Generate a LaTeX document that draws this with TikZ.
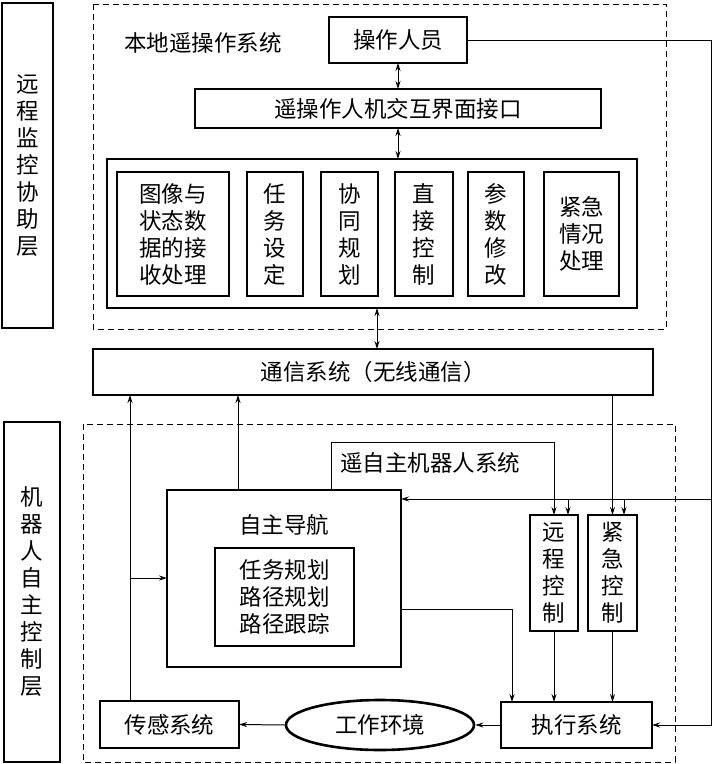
\documentclass[tikz,border=0pt]{standalone}
\usepackage{fontspec}
\newfontfamily\cjk{Noto Sans CJK SC}
\usetikzlibrary{arrows.meta,shapes.geometric,calc}
\begin{document}
\begin{tikzpicture}[x=1pt,y=-1pt,
  box/.style={draw,line width=2.6pt,inner sep=0pt,outer sep=0pt,align=center,
    font=\cjk\fontsize{22.5}{27}\selectfont},
  lbl/.style={inner sep=0pt,font=\cjk\fontsize{22.5}{27}\selectfont},
  dbox/.style={draw,line width=0.9pt,dash pattern=on 6pt off 4pt},
  conn/.style={line width=1pt,-{Stealth[length=8pt,width=5pt]}},
  dconn/.style={line width=1pt,{Stealth[length=8pt,width=5pt]}-{Stealth[length=8pt,width=5pt]}},
  plain/.style={line width=1pt}]
\useasboundingbox (0,0) rectangle (716,764);
\fill[white] (0,0) rectangle (716,764);

% dashed groups
\draw[dbox] (93,4) rectangle (666,329);
\draw[dbox] (83,424) rectangle (675,762);

% layer boxes
\node[box,minimum width=51pt,minimum height=325pt] (L1) at (27.5,165.5) {远\\程\\监\\控\\协\\助\\层};
\node[box,minimum width=56pt,minimum height=340pt] (L2) at (32,592) {机\\器\\人\\自\\主\\控\\制\\层};

% upper system
\node[lbl] (t1) at (203,43) {本地遥操作系统};
\node[box,minimum width=138pt,minimum height=46pt] (op) at (398,40) {操作人员};
\node[box,minimum width=406pt,minimum height=39pt] (ui) at (398,108.5) {遥操作人机交互界面接口};
\node[box,minimum width=530pt,minimum height=149pt] (big) at (372,233.5) {};
\node[box,minimum width=112pt,minimum height=124pt] (m1) at (173,234) {图像与\\状态数\\据的接\\收处理};
\node[box,minimum width=56pt,minimum height=124pt] (m2) at (275,234) {任\\务\\设\\定};
\node[box,minimum width=57pt,minimum height=124pt] (m3) at (349.5,234) {协\\同\\规\\划};
\node[box,minimum width=58pt,minimum height=124pt] (m4) at (424,234) {直\\接\\控\\制};
\node[box,minimum width=56pt,minimum height=124pt] (m5) at (496,234) {参\\数\\修\\改};
\node[box,minimum width=75pt,minimum height=124pt] (m6) at (581.5,234) {紧急\\情况\\处理};

% communication
\node[box,minimum width=560pt,minimum height=46pt] (comm) at (373,372) {通信系统（无线通信）};

% lower system
\node[lbl] (t2) at (430,463) {遥自主机器人系统};
\node[box,minimum width=234pt,minimum height=177pt] (nav) at (284,578.5) {};
\node[lbl] (navt) at (284,525) {自主导航};
\node[box,minimum width=139pt,minimum height=98pt] (inner) at (284.5,597) {任务规划\\路径规划\\路径跟踪};
\node[box,minimum width=48pt,minimum height=116pt] (rc) at (554,573) {远\\程\\控\\制};
\node[box,minimum width=49pt,minimum height=116pt] (ec) at (612.5,573) {紧\\急\\控\\制};
\node[box,minimum width=151pt,minimum height=46pt] (exe) at (576.5,725) {执行系统};
\node[draw,ellipse,line width=2.6pt,minimum width=188pt,minimum height=50pt,inner sep=0pt,
  font=\cjk\fontsize{22.5}{27}\selectfont] (env) at (380,725) {工作环境};
\node[box,minimum width=139pt,minimum height=47pt] (sens) at (169.5,724.5) {传感系统};

% helper coordinates
\coordinate (rt) at (711,40);
\coordinate (rb) at (711,725);
\coordinate (rm) at (711,499);
\coordinate (navA) at (238,490);
\coordinate (navB) at (331,490);
\coordinate (navC) at (401,609);
\coordinate (sensA) at (130,701);
\coordinate (sensB) at (130,578);

% upper connectors
\draw[dconn] (op.south) -- (ui.north);
\draw[dconn] (ui.south) -- (ui.south |- big.north);
\draw[dconn] ([xshift=5pt]big.south) -- ([xshift=5pt]big.south |- comm.north);

% operator line on the right
\draw[plain] (op.east) -- (rt) -- (rm);
\draw[conn] (rm) -- (rb) -- (exe.east);
\draw[conn] (rm) -- (nav.north east |- rm);
\draw[conn] ([xshift=14pt]rc.north |- rm) -- ([xshift=14pt]rc.north);
\draw[conn] ([xshift=11.5pt]ec.north |- rm) -- ([xshift=11.5pt]ec.north);

% communication to emergency control
\draw[conn] (ec.north |- comm.south) -- (ec.north);

% navigation connectors
\draw[conn] (navA) -- (navA |- comm.south);
\draw[conn] (navB) -- (331,442) -- (rc.north |- 0,442) -- (rc.north);
\draw[conn] (navC) -- (512,609) -- (512,702);

% sensing
\draw[conn] (sensA) -- (sensA |- comm.south);
\draw[conn] (sensB) -- (nav.west |- sensB);

% controls to execution
\draw[conn] (rc.south) -- (rc.south |- exe.north);
\draw[conn] (ec.south) -- (ec.south |- exe.north);

% environment loop
\draw[conn] (exe.west) -- (env.east);
\draw[conn] (env.west) -- (sens.east);
\end{tikzpicture}
\end{document}
